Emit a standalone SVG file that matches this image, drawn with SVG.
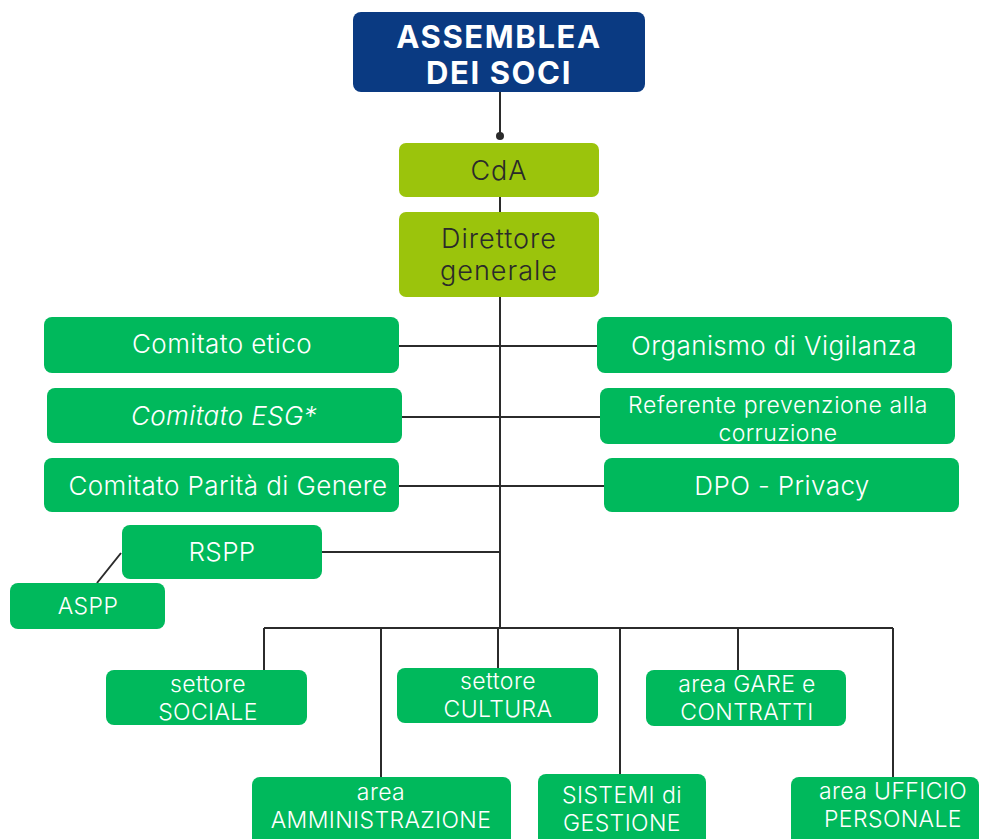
<svg xmlns="http://www.w3.org/2000/svg" width="982" height="839" viewBox="0 0 982 839">
<style>
.g{fill:#00b95c}
.l{fill:#9bc40c}
.n{fill:#0a3a82}
.t{font-family:Inter,"Liberation Sans",sans-serif;font-size:26px;font-weight:300;letter-spacing:0.4px;fill:#ffffff;text-anchor:middle}
.s{font-family:Inter,"Liberation Sans",sans-serif;font-size:23px;font-weight:300;letter-spacing:0.4px;fill:#ffffff;text-anchor:middle}
.d{font-family:Inter,"Liberation Sans",sans-serif;font-size:27px;font-weight:300;letter-spacing:1px;fill:#2a2a2a;text-anchor:middle}
.b{font-family:Inter,"Liberation Sans",sans-serif;font-size:31px;font-weight:bold;letter-spacing:1.6px;fill:#ffffff;text-anchor:middle}
.c{stroke:#2b2b2b;stroke-width:2;fill:none}
</style>
<rect width="982" height="839" fill="#ffffff"/>
<g id="connectors">
<path class="c" d="M500,92V136M500,197V212M500,297V628"/>
<circle cx="500" cy="136" r="4" fill="#2b2b2b"/>
<path class="c" d="M399,346H597M402,417H600M399,486H604M322,552H500M121,553L97,583"/>
<path class="c" d="M264,628H893M264,628V670M381,628V777M498,628V668M620,628V774M738,628V670M893,628V777"/>
</g>
<g id="assemblea"><rect class="n" x="353" y="12" width="292" height="80" rx="8"/><text class="b" x="499" y="48">ASSEMBLEA</text><text class="b" x="499" y="84">DEI SOCI</text></g>
<g id="cda"><rect class="l" x="399" y="143" width="200" height="54" rx="7"/><text class="d" x="499" y="180">CdA</text></g>
<g id="direttore"><rect class="l" x="399" y="212" width="200" height="85" rx="7"/><text class="d" x="499" y="248">Direttore</text><text class="d" x="499" y="280">generale</text></g>
<g id="comitato-etico"><rect class="g" x="44" y="317" width="355" height="56" rx="8"/><text class="t" x="222" y="353">Comitato etico</text></g>
<g id="organismo"><rect class="g" x="597" y="317" width="355" height="56" rx="8"/><text class="t" x="774" y="355">Organismo di Vigilanza</text></g>
<g id="comitato-esg"><rect class="g" x="47" y="388" width="355" height="55" rx="8"/><text class="t" x="224" y="425" font-style="italic">Comitato ESG*</text></g>
<g id="referente"><rect class="g" x="600" y="388" width="355" height="56" rx="8"/><text class="s" x="778" y="413" style="letter-spacing:0.6px">Referente prevenzione alla</text><text class="s" x="778" y="441">corruzione</text></g>
<g id="comitato-parita"><rect class="g" x="44" y="458" width="355" height="54" rx="8"/><text class="t" x="228" y="495">Comitato Parità di Genere</text></g>
<g id="dpo"><rect class="g" x="604" y="458" width="355" height="54" rx="8"/><text class="t" x="782" y="495">DPO - Privacy</text></g>
<g id="rspp"><rect class="g" x="122" y="525" width="200" height="54" rx="8"/><text class="t" x="222" y="561">RSPP</text></g>
<g id="aspp"><rect class="g" x="10" y="583" width="155" height="46" rx="8"/><text class="s" x="88" y="614">ASPP</text></g>
<g id="settore-sociale"><rect class="g" x="106" y="670" width="201" height="55" rx="8"/><text class="s" x="208" y="692">settore</text><text class="s" x="208" y="720">SOCIALE</text></g>
<g id="settore-cultura"><rect class="g" x="397" y="668" width="201" height="55" rx="8"/><text class="s" x="498" y="689">settore</text><text class="s" x="498" y="717">CULTURA</text></g>
<g id="area-gare"><rect class="g" x="646" y="670" width="200" height="56" rx="8"/><text class="s" x="747" y="692">area GARE e</text><text class="s" x="747" y="720">CONTRATTI</text></g>
<g id="area-amministrazione"><rect class="g" x="252" y="777" width="259" height="70" rx="8"/><text class="s" x="381" y="800">area</text><text class="s" x="381" y="828">AMMINISTRAZIONE</text></g>
<g id="sistemi"><rect class="g" x="538" y="774" width="168" height="73" rx="8"/><text class="s" x="622" y="803">SISTEMI di</text><text class="s" x="622" y="831">GESTIONE</text></g>
<g id="area-ufficio"><rect class="g" x="791" y="777" width="188" height="70" rx="8"/><text class="s" x="893" y="799">area UFFICIO</text><text class="s" x="893" y="827">PERSONALE</text></g>
</svg>
